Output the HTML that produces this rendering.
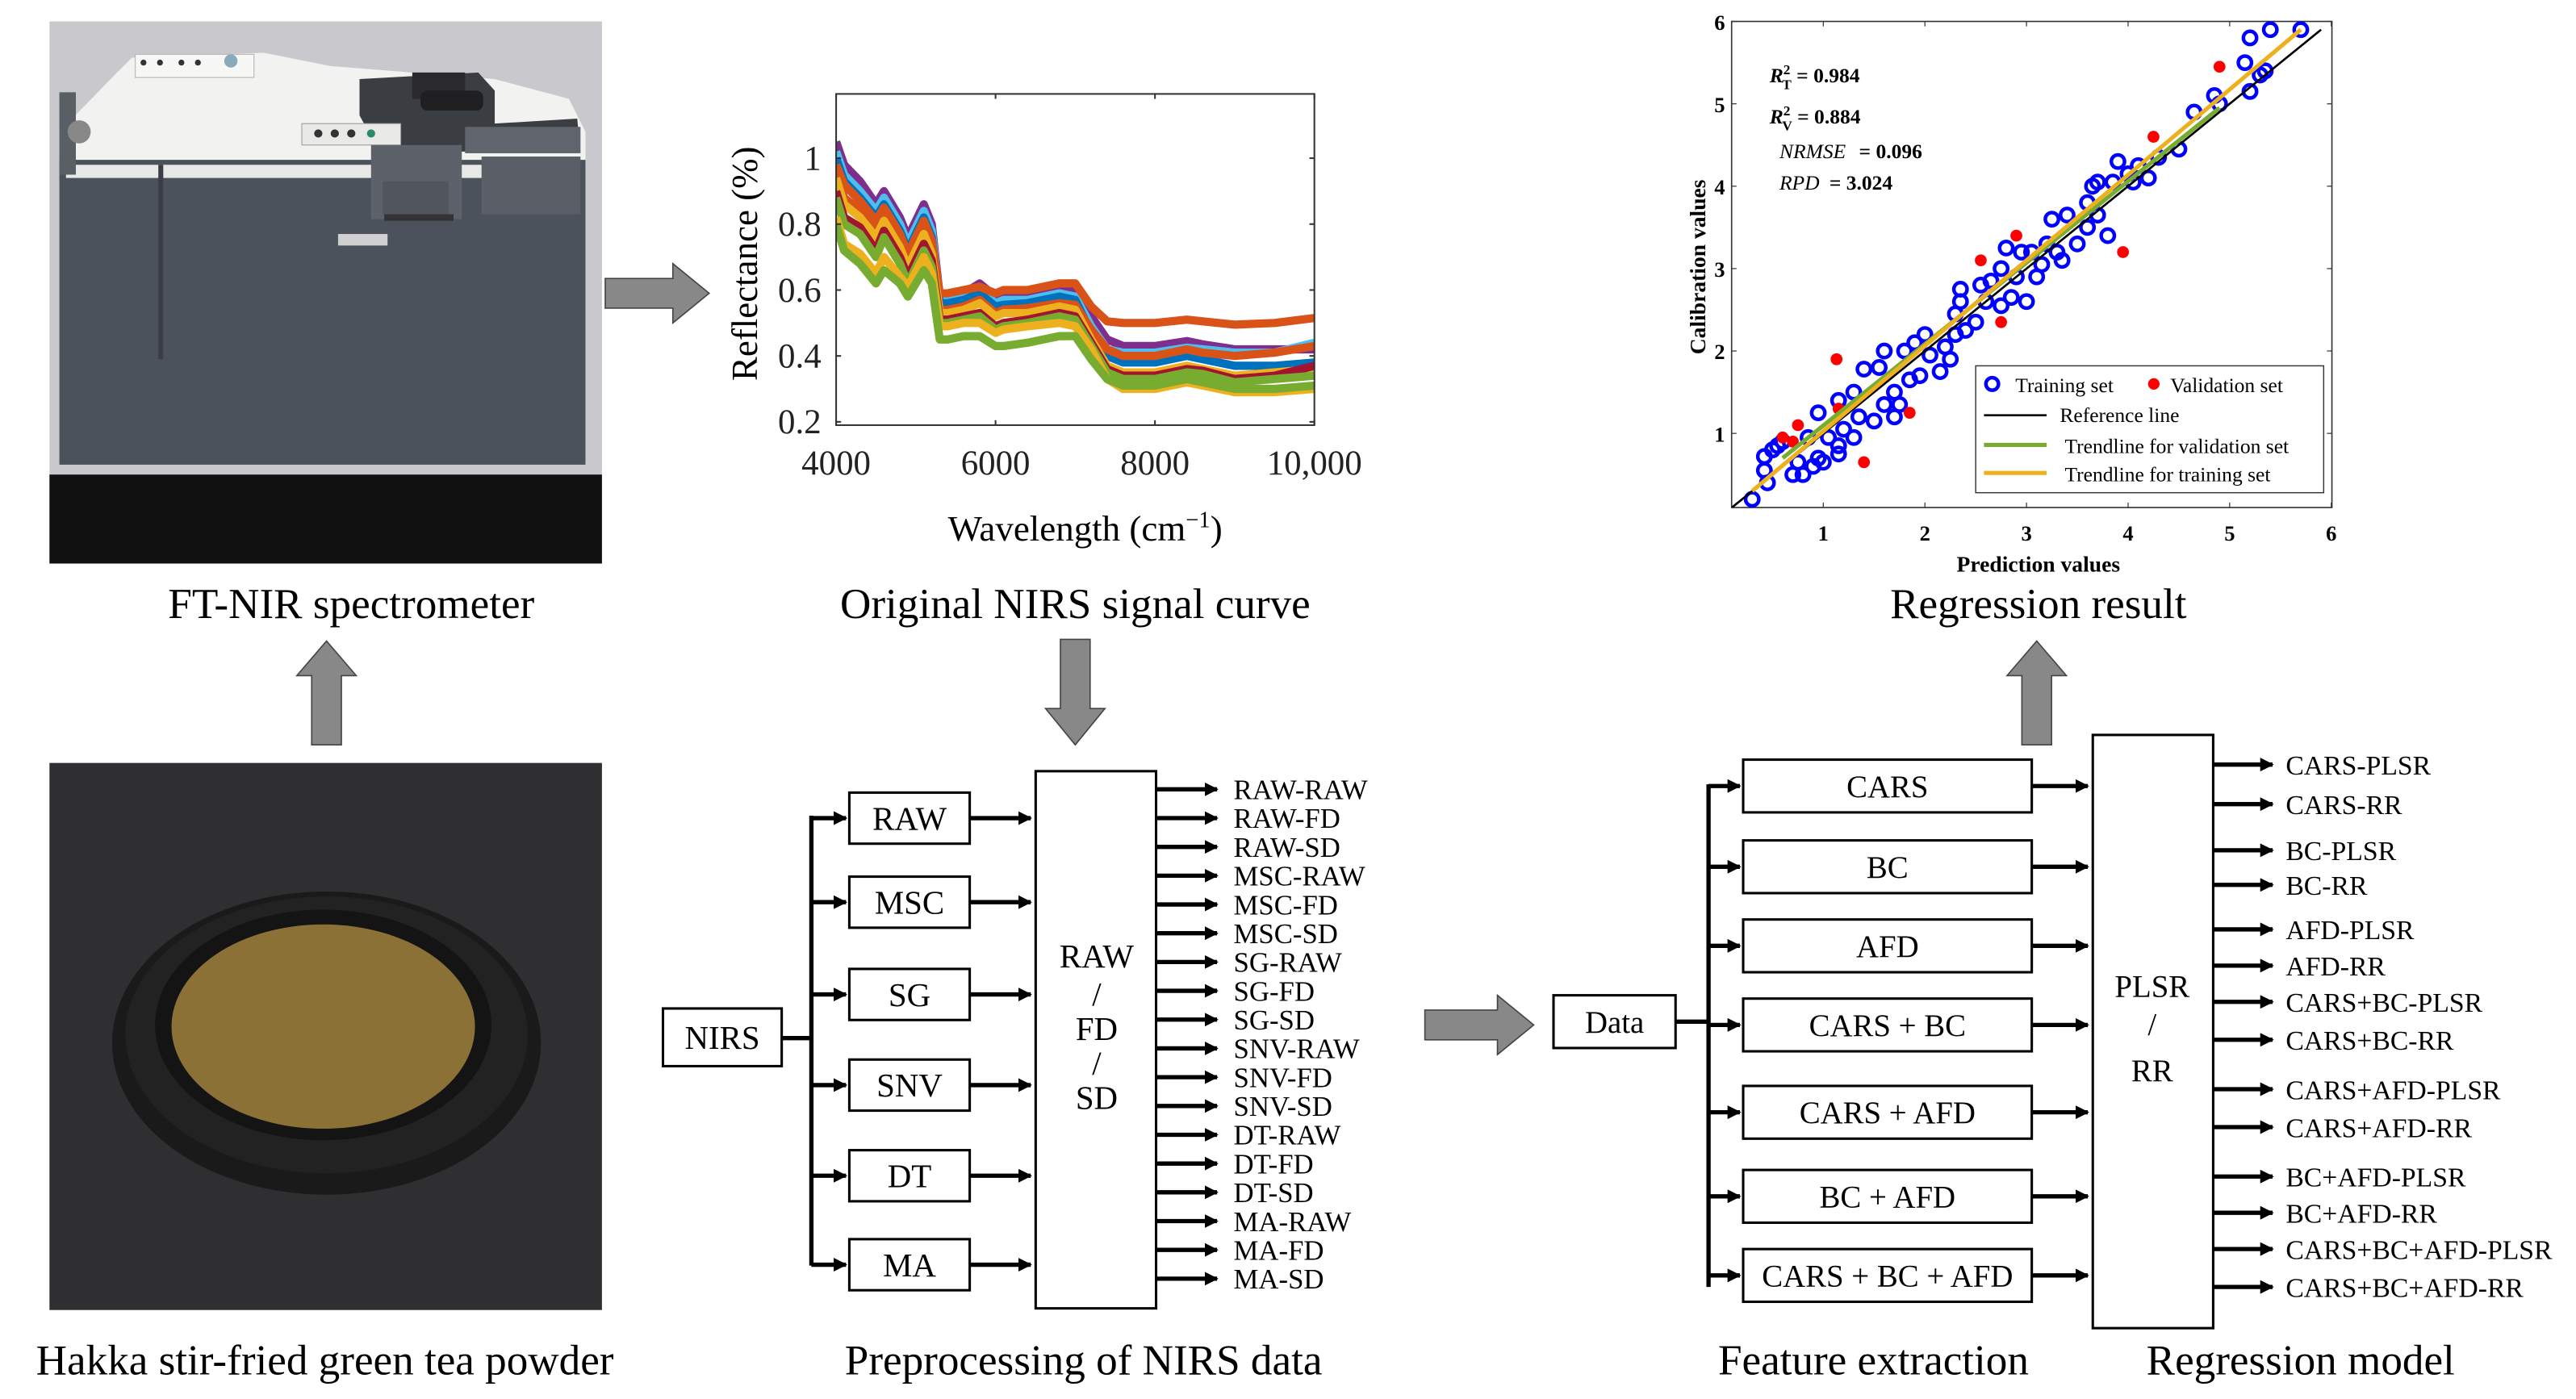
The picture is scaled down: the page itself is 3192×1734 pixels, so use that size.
<!DOCTYPE html>
<html><head><meta charset="utf-8"><style>
html,body{margin:0;padding:0;background:#fff;}
svg{display:block;font-family:"Liberation Serif","DejaVu Serif",serif;}
svg text, svg tspan{font-family:"Liberation Serif","DejaVu Serif",serif;}
</style></head><body>
<svg id="root" xmlns="http://www.w3.org/2000/svg" width="3192" height="1734" viewBox="0 0 1562 849" preserveAspectRatio="none" font-family="Liberation Serif, DejaVu Serif, serif">
<defs>
<marker id="ah" viewBox="0 0 10 10" refX="9" refY="5" markerWidth="3.2" markerHeight="3.2" orient="auto"><path d="M0,0 L10,5 L0,10 z" fill="#000"/></marker>
<clipPath id="specclip"><rect x="507" y="57" width="290" height="201"/></clipPath>
<clipPath id="regclip"><rect x="1050" y="13" width="364" height="295"/></clipPath>
</defs>

<!-- Photo 1: spectrometer -->
<g>
<rect x="30" y="13" width="335" height="329" fill="#c9c8cd"/>
<rect x="30" y="288" width="335" height="54" fill="#111"/>
<polygon points="36,80 70,45 80,35 160,32 200,40 300,48 345,60 355,80 355,100 36,100" fill="#f2f2f0"/>
<rect x="82" y="33" width="72" height="14" fill="#f7f7f5" stroke="#bbb" stroke-width="0.6"/>
<rect x="36" y="97" width="319" height="185" fill="#4c525c"/>
<rect x="40" y="100" width="300" height="8" fill="#e8e8e6"/>
<rect x="36" y="56" width="10" height="50" fill="#5a5f66"/>
<polygon points="218,48 290,44 300,55 300,75 350,72 352,92 230,92 218,70" fill="#3a3d42"/>
<rect x="250" y="44" width="32" height="16" fill="#2a2a2e"/>
<rect x="255" y="55" width="38" height="12" rx="4" fill="#1f1f22"/>
<rect x="282" y="77" width="70" height="16" fill="#60656d"/>
<rect x="183" y="75" width="60" height="13" fill="#e9e9e7" stroke="#999" stroke-width="0.5"/>
<circle cx="193" cy="81" r="2.5" fill="#333"/><circle cx="203" cy="81" r="2.5" fill="#333"/><circle cx="213" cy="81" r="2.5" fill="#333"/><circle cx="225" cy="81" r="2.5" fill="#2a8a6a"/>
<circle cx="87" cy="38" r="1.8" fill="#333"/><circle cx="97" cy="38" r="1.8" fill="#333"/><circle cx="110" cy="38" r="1.8" fill="#333"/><circle cx="120" cy="38" r="1.8" fill="#333"/><circle cx="140" cy="37" r="4" fill="#8ab"/>
<rect x="225" y="88" width="55" height="45" fill="#5d626a"/>
<rect x="232" y="110" width="40" height="20" fill="#51565e"/>
<rect x="233" y="130" width="42" height="4" fill="#333"/>
<rect x="292" y="95" width="60" height="35" fill="#5a5f67"/>
<rect x="205" y="142" width="30" height="7" fill="#d0d0d0"/>
<rect x="96" y="100" width="3" height="118" fill="#3a3e45"/>
<circle cx="48" cy="80" r="7" fill="#888"/>
</g>
<text x="213" y="375" font-size="26" text-anchor="middle">FT-NIR spectrometer</text>

<polygon points="198,389 216,410 207,410 207,452 189,452 189,410 180,410" fill="#888" stroke="#444" stroke-width="0.8"/>

<!-- Photo 2: tea powder -->
<g>
<rect x="30" y="463" width="335" height="332" fill="#2f2e31"/>
<ellipse cx="198" cy="633" rx="130" ry="92" fill="#1a1a1b"/>
<ellipse cx="198" cy="628" rx="122" ry="84" fill="#222223"/>
<ellipse cx="196" cy="622" rx="102" ry="70" fill="#141414"/>
<ellipse cx="196" cy="623" rx="92" ry="62" fill="#8b7136"/>
</g>
<text x="197" y="834" font-size="26" text-anchor="middle">Hakka stir-fried green tea powder</text>

<polygon points="367,169 408,169 408,160 430,178 408,196 408,187 367,187" fill="#888" stroke="#444" stroke-width="0.8"/>

<g id="spec"></g>
<text x="652" y="375" font-size="26" text-anchor="middle">Original NIRS signal curve</text>

<polygon points="643,388 661,388 661,430 670,430 652,452 634,430 643,430" fill="#888" stroke="#444" stroke-width="0.8"/>

<g id="prep"></g>
<text x="657" y="834" font-size="26" text-anchor="middle">Preprocessing of NIRS data</text>

<polygon points="864,613 908,613 908,604 930,622 908,640 908,631 864,631" fill="#888" stroke="#444" stroke-width="0.8"/>

<g id="feat"></g>
<text x="1136" y="834" font-size="26" text-anchor="middle">Feature extraction</text>
<text x="1395" y="834" font-size="26" text-anchor="middle">Regression model</text>

<polygon points="1235,389 1253,410 1244,410 1244,452 1226,452 1226,410 1217,410" fill="#888" stroke="#444" stroke-width="0.8"/>

<g id="reg"></g>
<text x="1236" y="375" font-size="26" text-anchor="middle">Regression result</text>
</svg>

<script>
// ---------- Spectrum data ----------
var wavenumbers = [4000,4100,4300,4500,4600,4800,4900,5100,5200,5300,5400,5600,5800,6000,6100,6400,6800,7000,7200,7400,7600,8000,8400,8600,9000,9500,10000];
var specPurple = [1.05,0.98,0.93,0.86,0.90,0.82,0.76,0.86,0.80,0.58,0.58,0.59,0.62,0.58,0.59,0.59,0.61,0.60,0.52,0.45,0.43,0.43,0.445,0.435,0.42,0.42,0.42];
var specCyan   = [1.02,0.95,0.90,0.84,0.88,0.80,0.74,0.84,0.78,0.57,0.57,0.58,0.60,0.56,0.57,0.57,0.59,0.58,0.49,0.42,0.41,0.41,0.425,0.42,0.41,0.41,0.44];
var specBlue   = [1.00,0.93,0.88,0.82,0.86,0.78,0.72,0.82,0.76,0.56,0.56,0.57,0.59,0.55,0.555,0.56,0.58,0.57,0.47,0.40,0.38,0.38,0.40,0.39,0.37,0.37,0.38];
var specOrangeHigh = [0.98,0.92,0.87,0.81,0.85,0.77,0.71,0.81,0.75,0.59,0.59,0.60,0.61,0.59,0.60,0.60,0.62,0.62,0.55,0.505,0.50,0.50,0.51,0.505,0.495,0.50,0.515];
var specOrange = [0.96,0.88,0.84,0.78,0.83,0.75,0.69,0.79,0.73,0.54,0.54,0.55,0.57,0.53,0.54,0.545,0.56,0.555,0.48,0.42,0.40,0.40,0.42,0.41,0.40,0.41,0.43];
var specYellow = [0.94,0.86,0.82,0.76,0.81,0.73,0.67,0.77,0.71,0.53,0.53,0.54,0.56,0.52,0.53,0.53,0.55,0.54,0.45,0.37,0.35,0.35,0.37,0.36,0.34,0.35,0.36];
var specRed    = [0.90,0.82,0.79,0.72,0.78,0.70,0.64,0.74,0.69,0.51,0.51,0.52,0.53,0.49,0.50,0.51,0.53,0.52,0.44,0.36,0.34,0.34,0.36,0.355,0.33,0.34,0.37];
var specGreen  = [0.88,0.80,0.77,0.70,0.76,0.68,0.62,0.72,0.67,0.50,0.50,0.51,0.52,0.48,0.49,0.50,0.52,0.51,0.43,0.35,0.33,0.33,0.35,0.345,0.32,0.33,0.34];
var specYellowLow = [0.82,0.74,0.71,0.65,0.70,0.64,0.61,0.70,0.65,0.49,0.49,0.50,0.50,0.47,0.48,0.49,0.50,0.49,0.42,0.33,0.30,0.30,0.32,0.31,0.29,0.29,0.30];
var specGreenLow  = [0.80,0.72,0.68,0.62,0.66,0.62,0.58,0.66,0.62,0.45,0.45,0.46,0.46,0.43,0.43,0.44,0.46,0.46,0.39,0.33,0.31,0.31,0.33,0.32,0.30,0.30,0.31];
var specSeries = [specPurple,specCyan,specBlue,specOrangeHigh,specOrange,specYellow,specRed,specGreen,specYellowLow,specGreenLow];
var specColors = ["#7E2F8E","#4DBEEE","#0072BD","#D95319","#D95319","#EDB120","#A2142F","#77AC30","#EDB120","#77AC30"];
var specYTicks = [0.2,0.4,0.6,0.8,1];
var specYTickLabels = ["0.2","0.4","0.6","0.8","1"];
var specXTicks = [4000,6000,8000,10000];
var specXTickLabels = ["4000","6000","8000","10,000"];

// ---------- Regression data ----------
var trainPred = [0.3,0.45,0.42,0.42,0.5,0.55,0.6,0.7,0.8,0.75,0.85,0.9,0.95,0.95,1.0,1.05,1.15,1.15,1.15,1.2,1.3,1.3,1.35,1.4,1.5,1.55,1.6,1.6,1.7,1.7,1.75,1.8,1.85,1.9,1.95,2.0,2.05,2.15,2.2,2.25,2.3,2.3,2.35,2.35,2.4,2.5,2.55,2.6,2.65,2.75,2.75,2.8,2.85,2.9,2.95,3.0,3.05,3.1,3.15,3.2,3.25,3.3,3.35,3.4,3.5,3.6,3.6,3.65,3.7,3.7,3.8,3.85,3.9,4.0,4.05,4.1,4.2,4.3,4.5,4.65,4.85,4.9,5.15,5.2,5.2,5.3,5.35,5.4,5.7];
var trainCal  = [0.2,0.4,0.55,0.72,0.8,0.85,0.9,0.5,0.5,0.65,0.95,0.6,0.7,1.25,0.65,0.95,0.75,0.85,1.4,1.05,1.5,0.95,1.2,1.78,1.15,1.8,2.0,1.35,1.2,1.5,1.35,2.0,1.65,2.1,1.7,2.2,1.95,1.75,2.05,1.9,2.2,2.45,2.75,2.6,2.25,2.35,2.8,2.6,2.85,3.0,2.55,3.25,2.65,2.9,3.2,2.6,3.2,2.9,3.05,3.3,3.6,3.2,3.1,3.65,3.3,3.8,3.5,4.0,4.05,3.65,3.4,4.05,4.3,4.15,4.05,4.25,4.1,4.35,4.45,4.9,5.1,5.0,5.5,5.8,5.15,5.35,5.4,5.9,5.9];
var valPred = [0.6,0.7,0.75,1.13,1.15,1.4,1.85,2.55,2.75,2.9,3.95,4.25,4.9];
var valCal  = [0.95,0.9,1.1,1.9,1.3,0.65,1.25,3.1,2.35,3.4,3.2,4.6,5.45];
var refLine = [0.1,5.9];
var trainTrendX = [0.3,5.7], trainTrendY = [0.3,5.9];
var valTrendX = [0.6,4.9], valTrendY = [0.7,4.95];
var regTicks = [1,2,3,4,5,6];
var regTickLabels = ["1","2","3","4","5","6"];

var NS = "http://www.w3.org/2000/svg";
function mk(tag, parent, attrs, txt){
  var e = document.createElementNS(NS, tag);
  for (var k in attrs) e.setAttribute(k, attrs[k]);
  if (txt !== undefined) e.textContent = txt;
  parent.appendChild(e);
  return e;
}

// ---------- Spectrum chart ----------
(function(){
  var g = document.getElementById("spec");
  var x0=507,x1=797,y0=57,y1=258;
  function sx(v){ return x0 + (v-4000)/(10000-4000)*(x1-x0); }
  function sy(v){ return 96 + (1-v)*200; }
  var bg = mk("rect", g, {x:x0,y:y0,width:x1-x0,height:y1-y0,fill:"#fff"});
  
  
  var lines = mk("g", g, {"clip-path":"url(#specclip)"});
  for (var s=0;s<specSeries.length;s++){
    var d="";
    for (var i=0;i<wavenumbers.length;i++){ d += (i?"L":"M")+sx(wavenumbers[i]).toFixed(2)+","+sy(specSeries[s][i]).toFixed(2); }
    var p = mk("path", lines, {d:d, fill:"none", stroke:specColors[s], "stroke-width":5, "stroke-linejoin":"round"});
    
    
  }
  var fr = mk("rect", g, {x:x0,y:y0,width:x1-x0,height:y1-y0,fill:"none",stroke:"#333","stroke-width":1});
  
  
  for (var j=0;j<specYTicks.length;j++){
    var yy = sy(specYTicks[j]);
    mk("line", g, {x1:x0,x2:x0+3,y1:yy,y2:yy,stroke:"#333"});
    mk("line", g, {x1:x1-3,x2:x1,y1:yy,y2:yy,stroke:"#333"});
    var t = mk("text", g, {x:x0-9,y:yy+7,"font-size":21,"text-anchor":"end",fill:"#222"}, specYTickLabels[j]);
    
    
  }
  for (var k=0;k<specXTicks.length;k++){
    var xx = sx(specXTicks[k]);
    mk("line", g, {x1:xx,x2:xx,y1:y1,y2:y1-3,stroke:"#333"});
    mk("line", g, {x1:xx,x2:xx,y1:y0,y2:y0+3,stroke:"#333"});
    var t2 = mk("text", g, {x:xx,y:288,"font-size":21,"text-anchor":"middle",fill:"#222"}, specXTickLabels[k]);
    
    
  }
  var xl = mk("text", g, {x:658,y:328,"font-size":22,"text-anchor":"middle"});
  
  
  xl.innerHTML = 'Wavelength (cm<tspan font-size="14" dy="-8">−1</tspan><tspan dy="8">)</tspan>';
  var yl = mk("text", g, {x:0,y:0,"font-size":22,"text-anchor":"middle",transform:"translate(459,160) rotate(-90)"}, "Reflectance (%)");
  
  
})();

// ---------- Regression chart ----------
(function(){
  var g = document.getElementById("reg");
  var x0=1050,x1=1414,y0=13,y1=308;
  function px(v){ return 1105.6 + (v-1)*61.6; }
  function py(v){ return 263 - (v-1)*50; }
  var fr = mk("rect", g, {x:x0,y:y0,width:x1-x0,height:y1-y0,fill:"#fff",stroke:"#333","stroke-width":0.8});
  
  
  for (var i=0;i<regTicks.length;i++){
    var xx=px(regTicks[i]), yy=py(regTicks[i]);
    mk("line", g, {x1:xx,x2:xx,y1:y1,y2:y1-3,stroke:"#333","stroke-width":0.6});
    mk("line", g, {x1:xx,x2:xx,y1:y0,y2:y0+3,stroke:"#333","stroke-width":0.6});
    mk("line", g, {x1:x0,x2:x0+3,y1:yy,y2:yy,stroke:"#333","stroke-width":0.6});
    mk("line", g, {x1:x1-3,x2:x1,y1:yy,y2:yy,stroke:"#333","stroke-width":0.6});
    var tx = mk("text", g, {x:xx,y:328,"font-size":13,"text-anchor":"middle","font-weight":"bold"}, regTickLabels[i]);
    
    
    var ty = mk("text", g, {x:x0-4,y:yy+5,"font-size":13,"text-anchor":"end","font-weight":"bold"}, regTickLabels[i]);
    
    
  }
  var pg = mk("g", g, {"clip-path":"url(#regclip)"});
  for (var a=0;a<trainPred.length;a++){
    var c = mk("circle", pg, {cx:px(trainPred[a]),cy:py(trainCal[a]),r:4,fill:"none",stroke:"#0000ff","stroke-width":2.2});
    
    
  }
  for (var b=0;b<valPred.length;b++){
    var c2 = mk("circle", pg, {cx:px(valPred[b]),cy:py(valCal[b]),r:3.6,fill:"#ff0000"});
    
    
  }
  var rl = mk("line", pg, {x1:px(refLine[0]),y1:py(refLine[0]),x2:px(refLine[1]),y2:py(refLine[1]),stroke:"#000","stroke-width":1.3});
  
  
  var vl = mk("line", pg, {x1:px(valTrendX[0]),y1:py(valTrendY[0]),x2:px(valTrendX[1]),y2:py(valTrendY[1]),stroke:"#77AC30","stroke-width":2.5});
  
  
  var tl = mk("line", pg, {x1:px(trainTrendX[0]),y1:py(trainTrendY[0]),x2:px(trainTrendX[1]),y2:py(trainTrendY[1]),stroke:"#EDB120","stroke-width":2.5});
  
  

  var st = mk("g", g, {"font-size":12.5,"font-weight":"bold"});
  
  
  st.innerHTML = '<text x="1073" y="50"><tspan font-style="italic">R</tspan><tspan font-size="8.5" dy="-5">2</tspan><tspan font-size="8.5" dx="-5" dy="9">T</tspan><tspan dy="-4"> = 0.984</tspan></text>'+
   '<text x="1073" y="75"><tspan font-style="italic">R</tspan><tspan font-size="8.5" dy="-5">2</tspan><tspan font-size="8.5" dx="-5" dy="9">V</tspan><tspan dy="-4"> = 0.884</tspan></text>'+
   '<text x="1079" y="96"><tspan font-style="italic" font-weight="normal">NRMSE</tspan><tspan dx="8">= 0.096</tspan></text>'+
   '<text x="1079" y="115"><tspan font-style="italic" font-weight="normal">RPD</tspan><tspan dx="6">= 3.024</tspan></text>';

  var lg = mk("g", g, {});
  
  
  mk("rect", lg, {x:1198,y:222,width:211,height:77,fill:"#fff",stroke:"#333","stroke-width":0.7});
  mk("circle", lg, {cx:1208,cy:233,r:3.8,fill:"none",stroke:"#0000ff","stroke-width":2.2});
  mk("circle", lg, {cx:1306,cy:233,r:3.5,fill:"#ff0000"});
  mk("line", lg, {x1:1203,x2:1241,y1:252,y2:252,stroke:"#000","stroke-width":1.3});
  mk("line", lg, {x1:1203,x2:1241,y1:270,y2:270,stroke:"#77AC30","stroke-width":2.5});
  mk("line", lg, {x1:1203,x2:1241,y1:287,y2:287,stroke:"#EDB120","stroke-width":2.5});
  var le = [["Training set",1222,238],["Validation set",1316,238],["Reference line",1249,256],["Trendline for validation set",1252,275],["Trendline for training set",1252,292]];
  for (var q=0;q<le.length;q++){
    var lt = mk("text", lg, {x:le[q][1],y:le[q][2],"font-size":12.5}, le[q][0]);
    
    
  }
  var xt = mk("text", g, {x:1236,y:347,"font-size":13.5,"font-weight":"bold","text-anchor":"middle"}, "Prediction values");
  
  
  var yt = mk("text", g, {x:0,y:0,"font-size":13.5,"font-weight":"bold","text-anchor":"middle",transform:"translate(1034,162) rotate(-90)"}, "Calibration values");
  
  
})();

// ---------- Diagrams ----------
function arrow(g,x1,y1,x2,y2){
  var l = mk("line", g, {x1:x1,y1:y1,x2:x2,y2:y2,stroke:"#000","stroke-width":2.6,"marker-end":"url(#ah)"});
  
  
}
function box(g,x,y,w,h,label,fs,name){
  var r = mk("rect", g, {x:x,y:y,width:w,height:h,fill:"#fff",stroke:"#000","stroke-width":1.5});
  
  
  var t = mk("text", g, {x:x+w/2,y:y+h/2+fs*0.35,"font-size":fs,"text-anchor":"middle"}, label);
  
  
}
var prepMethods = ["RAW","MSC","SG","SNV","DT","MA"];
var prepBoxY = [481,532,588,643,698,752];
var prepOutputs = ["RAW-RAW","RAW-FD","RAW-SD","MSC-RAW","MSC-FD","MSC-SD","SG-RAW","SG-FD","SG-SD","SNV-RAW","SNV-FD","SNV-SD","DT-RAW","DT-FD","DT-SD","MA-RAW","MA-FD","MA-SD"];
(function(){
  var g = document.getElementById("prep");
  box(g,402,612,72,35,"NIRS",20,"nirs-box");
  mk("line", g, {x1:474,y1:630,x2:492,y2:630,stroke:"#000","stroke-width":2.6});
  mk("line", g, {x1:492,y1:495,x2:492,y2:768,stroke:"#000","stroke-width":2.6});
  for (var i=0;i<prepMethods.length;i++){
    var y = prepBoxY[i], cy = y+15.5;
    arrow(g,492,cy,513,cy);
    box(g,515,y,73,31,prepMethods[i],20,"preprocess-box");
    arrow(g,588,cy,625,cy);
  }
  var r = mk("rect", g, {x:628,y:468,width:73,height:326,fill:"#fff",stroke:"#000","stroke-width":1.5});
  
  
  var dl = ["RAW","/","FD","/","SD"], dy=[587,610,631,652,673];
  for (var j=0;j<dl.length;j++){
    var t = mk("text", g, {x:665,y:dy[j],"font-size":20,"text-anchor":"middle"}, dl[j]);
    
    
  }
  for (var k=0;k<prepOutputs.length;k++){
    var yy = 479 + k*17.47;
    arrow(g,701,yy,738,yy);
    var o = mk("text", g, {x:748,y:yy+6,"font-size":17}, prepOutputs[k]);
    
    
  }
})();
var featMethods = ["CARS","BC","AFD","CARS + BC","CARS + AFD","BC + AFD","CARS + BC + AFD"];
var featBoxY = [461,510,558,606,659,710,758];
var modelOutputs = ["CARS-PLSR","CARS-RR","BC-PLSR","BC-RR","AFD-PLSR","AFD-RR","CARS+BC-PLSR","CARS+BC-RR","CARS+AFD-PLSR","CARS+AFD-RR","BC+AFD-PLSR","BC+AFD-RR","CARS+BC+AFD-PLSR","CARS+BC+AFD-RR"];
var modelOutputY = [464,488,516,537,564,586,608,631,661,684,714,736,758,781];
(function(){
  var g = document.getElementById("feat");
  box(g,942,604,74,32,"Data",19,"data-box");
  mk("line", g, {x1:1016,y1:620,x2:1036,y2:620,stroke:"#000","stroke-width":2.6});
  mk("line", g, {x1:1036,y1:476,x2:1036,y2:781,stroke:"#000","stroke-width":2.6});
  for (var i=0;i<featMethods.length;i++){
    var y=featBoxY[i], cy=y+16;
    arrow(g,1036,cy,1055,cy);
    box(g,1057,y,175,32,featMethods[i],19,"feature-box");
    arrow(g,1232,cy,1266,cy);
  }
  var r = mk("rect", g, {x:1269,y:446,width:73,height:360,fill:"#fff",stroke:"#000","stroke-width":1.5});
  
  
  var ml=["PLSR","/","RR"], my=[605,628,656];
  for (var j=0;j<ml.length;j++){
    var t = mk("text", g, {x:1305,y:my[j],"font-size":19,"text-anchor":"middle"}, ml[j]);
    
    
  }
  for (var k=0;k<modelOutputs.length;k++){
    var yy = modelOutputY[k];
    arrow(g,1342,yy,1378,yy);
    var o = mk("text", g, {x:1386,y:yy+6,"font-size":16.5}, modelOutputs[k]);
    
    
  }
})();
</script>
</body></html>
